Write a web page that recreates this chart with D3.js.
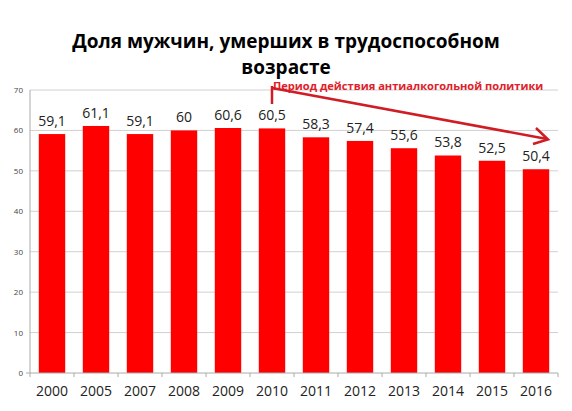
<!DOCTYPE html><html><head><meta charset="utf-8"><script src="https://d3js.org/d3.v7.min.js"></script>
<style>body{margin:0;background:#fff}</style></head><body><svg id="c" width="572" height="411"></svg>
<script>
const categories=["2000","2005","2007","2008","2009","2010","2011","2012","2013","2014","2015","2016"];
const values=[59.1,61.1,59.1,60,60.6,60.5,58.3,57.4,55.6,53.8,52.5,50.4];
const labels=["59,1","61,1","59,1","60","60,6","60,5","58,3","57,4","55,6","53,8","52,5","50,4"];
const yTicks=[0,10,20,30,40,50,60,70];
const svg=d3.select("#c"),F="'Open Sans',sans-serif";
const x=d3.scaleBand().domain(categories).range([30,558]).paddingInner(0.4).paddingOuter(0.2);
const y=d3.scaleLinear().domain([0,70]).range([373,90]);
svg.append("g").selectAll("line").data(yTicks.slice(1)).join("line").attr("x1",30).attr("x2",558).attr("y1",d=>y(d)).attr("y2",d=>y(d)).attr("stroke","#d0d0d0");
svg.append("g").selectAll("text").data(yTicks).join("text").attr("x",23).attr("y",d=>y(d)+3).attr("text-anchor","end").attr("font-size",8).attr("font-family",F).attr("fill","#444").text(d=>d);
svg.append("line").attr("x1",30).attr("x2",30).attr("y1",90).attr("y2",373).attr("stroke","#aaa");
svg.append("g").selectAll("rect").data(values).join("rect").attr("x",(d,i)=>x(categories[i])).attr("width",x.bandwidth()).attr("y",d=>y(d)).attr("height",d=>y(0)-y(d)).attr("fill","#ff0000");
svg.append("line").attr("x1",26).attr("x2",558).attr("y1",373).attr("y2",373).attr("stroke","#aaa");
const step=x.step();
svg.append("g").selectAll("line").data(d3.range(13)).join("line").attr("x1",d=>30+d*step).attr("x2",d=>30+d*step).attr("y1",373).attr("y2",377).attr("stroke","#aaa");
svg.append("g").selectAll("text").data(values).join("text").attr("x",(d,i)=>x(categories[i])+x.bandwidth()/2).attr("y",d=>y(d)-8).attr("text-anchor","middle").attr("font-size",14).attr("font-family",F).attr("fill","#222").text((d,i)=>labels[i]);
svg.append("g").selectAll("text").data(categories).join("text").attr("x",d=>x(d)+x.bandwidth()/2).attr("y",396).attr("text-anchor","middle").attr("font-size",14).attr("font-family",F).attr("fill","#222").text(d=>d);
svg.append("text").attr("x",286).attr("y",48).attr("text-anchor","middle").attr("font-size",19).attr("font-weight","bold").attr("font-family",F).text("Доля мужчин, умерших в трудоспособном");
svg.append("text").attr("x",286).attr("y",74).attr("text-anchor","middle").attr("font-size",19).attr("font-weight","bold").attr("font-family",F).text("возрасте");
svg.append("text").attr("x",273).attr("y",90).attr("font-size",11.1).attr("font-weight","bold").attr("font-family",F).attr("fill","#e0202a").text("Период действия антиалкогольной политики");
const xa=x("2010")+x.bandwidth()/2;
svg.append("line").attr("x1",xa).attr("x2",xa).attr("y1",86).attr("y2",104).attr("stroke","#d01c24").attr("stroke-width",2.5);
svg.append("line").attr("x1",xa).attr("y1",88).attr("x2",547).attr("y2",139).attr("stroke","#d01c24").attr("stroke-width",2.5);
svg.append("path").attr("d","M536,128 L548,139.5 L533,144").attr("fill","none").attr("stroke","#d01c24").attr("stroke-width",2.5);
</script></body></html>
